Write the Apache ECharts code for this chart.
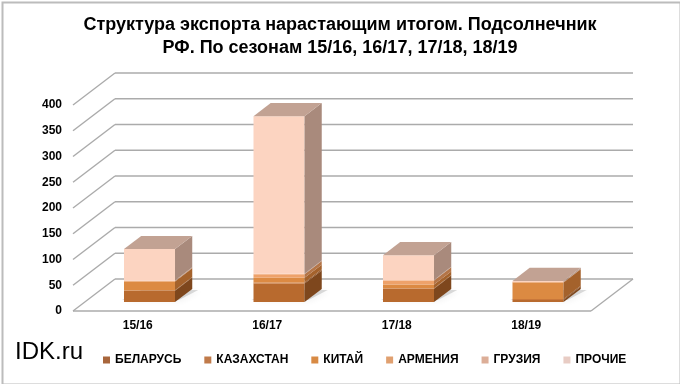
<!DOCTYPE html>
<html><head><meta charset="utf-8">
<script src="https://cdn.jsdelivr.net/npm/echarts@6/dist/echarts.min.js"></script>
<style>html,body{margin:0;padding:0;background:#fff}#c{width:680px;height:384px}</style>
</head><body><div id="c"></div>
<script>
const categories = ['15/16', '16/17', '17/18', '18/19'];
const seriesNames = ['БЕЛАРУСЬ', 'КАЗАХСТАН', 'КИТАЙ', 'АРМЕНИЯ', 'ГРУЗИЯ', 'ПРОЧИЕ'];
const belarus    = [22, 36, 26, 4];
const kazakhstan = [1, 2, 1, 2];
const china      = [17, 9, 7, 32];
const armenia    = [1, 7, 8, 1];
const georgia    = [1, 1, 1, 0];
const others     = [61, 306, 48, 2];
const yTicks = [0, 50, 100, 150, 200, 250, 300, 350, 400];

const values = [belarus, kazakhstan, china, armenia, georgia, others];
const frontColors = ['#b86a2e', '#c9773a', '#dc8a42', '#eea26a', '#f7bf9e', '#fcd4c1'];
const sideColors  = ['#7e471d', '#8e5226', '#a4622c', '#b47548', '#b99380', '#a98a7c'];
const legendColors = ['#a8663c', '#c07a4a', '#d88a44', '#e0a070', '#dcae98', '#e8ccc4'];
const topColor = '#c2a293';

const DEPTH = [42, -32];
const F0 = 0.28, F1 = 0.69;
const BAR = 0.394;
const FONT = 'Liberation Sans, Arial, sans-serif';

function wallItem(params, api) {
  const v = api.value(1);
  const n = categories.length;
  const band = api.size([1, 0])[0];
  const p = api.coord([0, v]);
  const q = api.coord([n - 1, v]);
  const xl = p[0] - band / 2, xr = q[0] + band / 2, y = p[1];
  const st = { stroke: '#ababab', lineWidth: 1.4 };
  const ch = [
    { type: 'line', shape: { x1: xl + DEPTH[0], y1: y + DEPTH[1], x2: xr + DEPTH[0], y2: y + DEPTH[1] }, style: st },
    { type: 'line', shape: { x1: xl, y1: y, x2: xl + DEPTH[0], y2: y + DEPTH[1] }, style: st }
  ];
  if (v === 0) {
    ch.push({ type: 'line', shape: { x1: xl, y1: y, x2: xr, y2: y }, style: st });
    ch.push({ type: 'line', shape: { x1: xr, y1: y, x2: xr + DEPTH[0], y2: y + DEPTH[1] }, style: st });
  }
  return { type: 'group', children: ch };
}

function barItem(si) {
  return function (params, api) {
    const ci = api.value(0);
    const val = api.value(1);
    if (!(val > 0)) return null;
    let base = 0;
    for (let k = 0; k < si; k++) base += values[k][ci];
    const top = base + val;
    let isTop = true;
    for (let k = si + 1; k < values.length; k++) if (values[k][ci] > 0) isTop = false;
    const pb = api.coord([ci, base]);
    const pt = api.coord([ci, top]);
    const band = api.size([1, 0])[0];
    const w = band * BAR;
    const fx = DEPTH[0] * F0, fy = DEPTH[1] * F0;
    const dx = DEPTH[0] * (F1 - F0), dy = DEPTH[1] * (F1 - F0);
    const x0 = pb[0] + fx - w / 2, x1 = x0 + w;
    const yb = pb[1] + fy, yt = pt[1] + fy;
    const ch = [];
    if (si === 0) {
      ch.push({ type: 'polygon', shape: { points: [[x0 - 2, yb - 2], [x1 + 4, yb - 2], [x1 + dx + 6, yb + dy + 1], [x0 + dx, yb + dy + 1]] },
        style: { fill: 'rgba(60,60,60,0.18)', shadowBlur: 6, shadowColor: 'rgba(0,0,0,0.3)', shadowOffsetX: 2, shadowOffsetY: 1 } });
    }
    ch.push({ type: 'rect', shape: { x: x0, y: yt, width: w, height: yb - yt }, style: { fill: frontColors[si] } });
    ch.push({ type: 'polygon', shape: { points: [[x1, yb], [x1, yt], [x1 + dx, yt + dy], [x1 + dx, yb + dy]] }, style: { fill: sideColors[si] } });
    if (isTop) {
      ch.push({ type: 'polygon', shape: { points: [[x0, yt], [x1, yt], [x1 + dx, yt + dy], [x0 + dx, yt + dy]] }, style: { fill: topColor } });
    }
    return { type: 'group', children: ch };
  };
}

const series = [{
  type: 'custom', name: '__walls', z: 1, silent: true,
  renderItem: wallItem,
  data: yTicks.map(v => [0, v]),
  encode: { x: 0, y: 1 }
}];
seriesNames.forEach((nm, si) => {
  series.push({
    type: 'custom', name: nm, z: 2 + si,
    itemStyle: { color: legendColors[si] },
    renderItem: barItem(si),
    data: values[si].map((v, i) => [i, v]),
    encode: { x: 0, y: 1 }
  });
});

const chart = echarts.init(document.getElementById('c'), null, { renderer: 'canvas' });
chart.setOption({
  animation: false,
  backgroundColor: '#ffffff',
  title: {
    text: 'Структура экспорта нарастающим итогом. Подсолнечник\nРФ. По сезонам 15/16, 16/17, 17/18, 18/19',
    left: 'center', top: 9,
    textStyle: { fontFamily: FONT, fontSize: 18, fontWeight: 'bold', color: '#000', lineHeight: 23 }
  },
  legend: {
    data: seriesNames,
    left: 98, top: 349,
    icon: 'rect', itemWidth: 7, itemHeight: 7, itemGap: 23,
    textStyle: { fontFamily: FONT, fontSize: 12, fontWeight: 'bold', color: '#000' }
  },
  grid: { left: 73, right: 89, top: 105, bottom: 73 },
  xAxis: {
    type: 'category', data: categories,
    axisLine: { show: false }, axisTick: { show: false },
    axisLabel: { fontFamily: FONT, fontSize: 12, fontWeight: 'bold', color: '#000', margin: 9 }
  },
  yAxis: {
    type: 'value', min: 0, max: 400, interval: 50,
    axisLine: { show: false }, axisTick: { show: false }, splitLine: { show: false },
    axisLabel: { fontFamily: FONT, fontSize: 12, fontWeight: 'bold', color: '#000', margin: 11 }
  },
  graphic: [
    { type: 'rect', left: 0, top: 0, shape: { x: 1, y: 1, width: 678, height: 382 }, style: { fill: 'none', stroke: '#bcbcbc', lineWidth: 2 }, silent: true },
    { type: 'text', left: 15, top: 340, style: { text: 'IDK.ru', fontFamily: FONT, fontSize: 24, fill: '#000' } }
  ],
  series: series
});
</script>
</body></html>
